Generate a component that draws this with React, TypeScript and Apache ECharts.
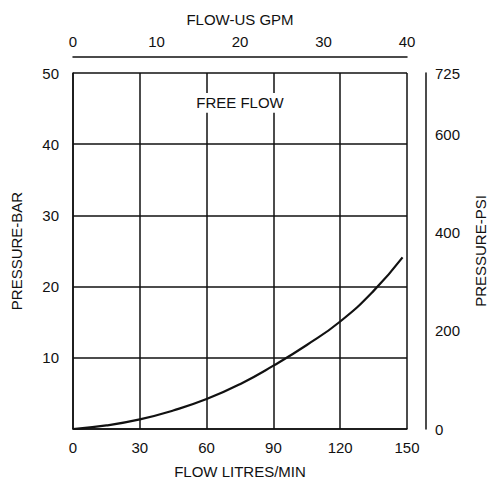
import React, { useEffect, useRef } from "react";
import * as echarts from "echarts";

const flowLpm = [0, 15, 30, 45, 60, 75, 90, 105, 120, 135, 148];
const pressureBar = [0, 0.5, 1.35, 2.6, 4.2, 6.3, 8.9, 11.8, 15.1, 19.4, 24.1];
const lpmTicks = { min: 0, max: 150, interval: 30 };
const gpmTicks = { min: 0, max: 40, interval: 10 };
const barTicks = { min: 0, max: 50, interval: 10 };
const psiTicks = { min: 0, max: 725, interval: 200 };
const freeFlowLabel = "FREE FLOW";
const freeFlowAt = [75, 45.8];
const freeFlowGap = [44.4, 47.2];

const FONT = '"Liberation Sans", Arial, sans-serif';
const INK = "#111";

export default function App() {
  const ref = useRef<HTMLDivElement>(null);
  useEffect(() => {
    if (!ref.current) return;
    const chart = echarts.init(ref.current, null, { renderer: "svg" });
    const txt = { color: INK, fontSize: 15, fontFamily: FONT };
    const line = { show: true, onZero: false, lineStyle: { color: INK, width: 1.5 } };
    chart.setOption({
      animation: false,
      backgroundColor: "#fff",
      grid: { left: 73, right: 84, top: 73, bottom: 51, outerBoundsMode: "none", containLabel: false },
      xAxis: [
        {
          type: "value",
          position: "bottom",
          ...lpmTicks,
          name: "FLOW LITRES/MIN",
          nameLocation: "middle",
          nameGap: 35,
          nameTextStyle: txt,
          axisLine: line,
          axisTick: { show: false },
          axisLabel: { ...txt, margin: 11 },
          splitLine: { show: true, lineStyle: { color: INK, width: 1.5 } },
        },
        {
          type: "value",
          position: "top",
          offset: 16,
          ...gpmTicks,
          name: "FLOW-US GPM",
          nameLocation: "middle",
          nameGap: 30,
          nameTextStyle: txt,
          axisLine: line,
          axisTick: { show: false },
          axisLabel: { ...txt, margin: 8 },
          splitLine: { show: false },
        },
      ],
      yAxis: [
        {
          type: "value",
          position: "left",
          ...barTicks,
          name: "PRESSURE-BAR",
          nameLocation: "middle",
          nameGap: 49,
          nameTextStyle: txt,
          axisLine: line,
          axisTick: { show: false },
          axisLabel: { ...txt, margin: 14, showMinLabel: false },
          splitLine: { show: true, lineStyle: { color: INK, width: 1.5 } },
        },
        {
          type: "value",
          position: "right",
          offset: 19,
          ...psiTicks,
          name: "PRESSURE-PSI",
          nameLocation: "middle",
          nameGap: 47,
          nameTextStyle: txt,
          axisLine: line,
          axisTick: { show: false },
          axisLabel: { ...txt, margin: 9 },
          splitLine: { show: false },
        },
      ],
      series: [
        {
          type: "line",
          xAxisIndex: 0,
          yAxisIndex: 0,
          data: flowLpm.map((x, i) => [x, pressureBar[i]]),
          smooth: true,
          showSymbol: false,
          lineStyle: { color: INK, width: 2.2 },
          z: 5,
        },
      ],
    });
    const p = chart.convertToPixel({ xAxisIndex: 0, yAxisIndex: 0 }, freeFlowAt) as number[];
    const gTop = chart.convertToPixel({ xAxisIndex: 0, yAxisIndex: 0 }, [0, freeFlowGap[1]]) as number[];
    const gBot = chart.convertToPixel({ xAxisIndex: 0, yAxisIndex: 0 }, [0, freeFlowGap[0]]) as number[];
    const l60 = chart.convertToPixel({ xAxisIndex: 0, yAxisIndex: 0 }, [55, 0]) as number[];
    const l90 = chart.convertToPixel({ xAxisIndex: 0, yAxisIndex: 0 }, [95, 0]) as number[];
    chart.setOption({
      graphic: [
        {
          type: "rect",
          z: 100,
          shape: { x: l60[0], y: gTop[1], width: l90[0] - l60[0], height: gBot[1] - gTop[1] },
          style: { fill: "#fff" },
        },
        {
          type: "text",
          z: 101,
          x: p[0],
          y: p[1],
          style: {
            text: freeFlowLabel,
            fill: INK,
            fontSize: 15,
            fontFamily: FONT,
            align: "center",
            verticalAlign: "middle",
          },
        },
      ],
    });
    return () => chart.dispose();
  }, []);
  return <div ref={ref} style={{ width: 491, height: 480, position: "fixed", left: 0, top: 0 }} />;
}
